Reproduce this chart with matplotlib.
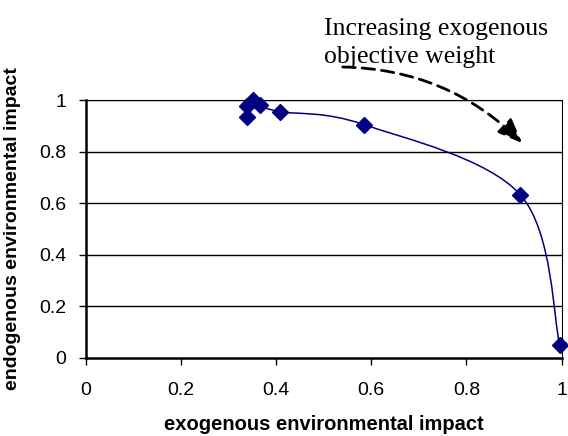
import numpy as np
import matplotlib
matplotlib.use("Agg")
import matplotlib.pyplot as plt
from matplotlib.path import Path
from matplotlib.patches import PathPatch

# données
exo = [0.339, 0.339, 0.352, 0.366, 0.408, 0.584, 0.913, 0.996]
endo = [0.935, 0.975, 1.0, 0.98, 0.955, 0.905, 0.633, 0.05]
xticks = [0, 0.2, 0.4, 0.6, 0.8, 1]
yticks = [0, 0.2, 0.4, 0.6, 0.8, 1]
ticklabels = ["0", "0.2", "0.4", "0.6", "0.8", "1"]

plt.rcParams["font.family"] = ["Liberation Sans", "DejaVu Sans"]

fig = plt.figure(figsize=(5.68, 4.36), dpi=100)
ax = fig.add_axes([0.1509, 0.1789, 0.838, 0.5917])

# courbe lissée (style Excel) : segments de Bézier entre les points
px = np.array(exo)
py = np.array(endo)
n = len(px)
verts = [(px[0], py[0])]
codes = [Path.MOVETO]
for i in range(n - 1):
    p0 = np.array([px[max(i - 1, 0)], py[max(i - 1, 0)]])
    p1 = np.array([px[i], py[i]])
    p2 = np.array([px[i + 1], py[i + 1]])
    p3 = np.array([px[min(i + 2, n - 1)], py[min(i + 2, n - 1)]])
    c1 = p1 + (p2 - p0) / 6
    c2 = p2 - (p3 - p1) / 6
    verts += [tuple(c1), tuple(c2), tuple(p2)]
    codes += [Path.CURVE4] * 3
ax.add_patch(PathPatch(Path(verts, codes), fill=False, edgecolor="#000080", lw=1.1, zorder=3))

ax.plot(exo, endo, linestyle="none", marker="D", color="#000080", markersize=8, zorder=4, clip_on=False)

ax.set_xlim(0, 1)
ax.set_ylim(0, 1)
ax.set_xticks(xticks)
ax.set_xticklabels(ticklabels)
ax.set_yticks(yticks)
ax.set_yticklabels(ticklabels)
ax.tick_params(direction="out", length=5, width=1, labelsize=14, colors="black")
ax.tick_params(axis="x", pad=12)
ax.tick_params(axis="y", pad=9)
for y in yticks[1:]:
    ax.axhline(y, color="black", lw=1, zorder=1)
for s in ax.spines.values():
    s.set_color("black")
ax.spines["left"].set_linewidth(1.8)
ax.spines["bottom"].set_linewidth(1.8)

ax.set_xlabel("exogenous environmental impact", fontsize=14.5, fontweight="bold", labelpad=12)
ax.set_ylabel("endogenous environmental impact", fontsize=14, fontweight="bold", labelpad=13)

ax.annotate("", xy=(0.917, 0.833), xytext=(0.540, 1.128), xycoords="axes fraction",
            arrowprops=dict(arrowstyle="-|>,head_length=1.5,head_width=0.6", color="black",
                            lw=2, linestyle=(0, (4.5, 2.5)), connectionstyle="arc3,rad=-0.2",
                            shrinkA=0, shrinkB=0))
fig.text(0.570, 0.9197, "Increasing exogenous", fontsize=18.5,
         family="Liberation Serif", ha="left", va="baseline")
fig.text(0.570, 0.8555, "objective weight", fontsize=18.5,
         family="Liberation Serif", ha="left", va="baseline")

fig.savefig("out.png", dpi=100)
